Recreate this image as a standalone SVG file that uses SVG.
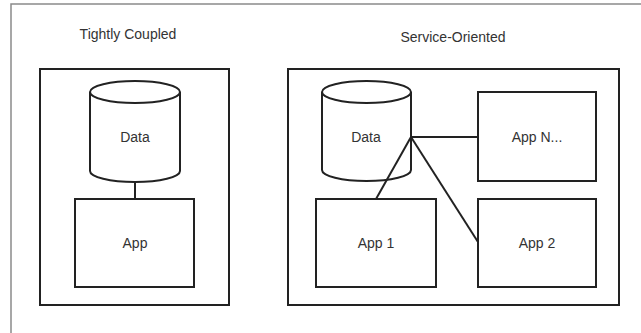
<svg xmlns="http://www.w3.org/2000/svg" width="641" height="333" viewBox="0 0 641 333">
  <style>
    .frame { fill: none; stroke: #8a8a8a; stroke-width: 1.5; }
    .box { fill: #ffffff; stroke: #222222; stroke-width: 2; }
    .cyl { fill: #ffffff; stroke: #222222; stroke-width: 2; }
    .link { fill: none; stroke: #222222; stroke-width: 2; }
    .lbl { font-family: "Liberation Sans", Arial, sans-serif; font-size: 14px; fill: #333333; text-anchor: middle; dominant-baseline: central; }
  </style>
  <rect width="641" height="333" fill="#ffffff"/>
  <path class="frame" d="M11,333 V4 H641"/>

  <!-- left panel -->
  <g id="tightly-coupled">
    <text class="lbl" x="128" y="34">Tightly Coupled</text>
    <rect class="box" x="40" y="69" width="189" height="236"/>
  </g>
  <g id="data-left">
    <path class="cyl" d="M90,92 A45,11 0 0 1 180,92 V171 A45,11 0 0 1 90,171 Z"/>
    <path class="cyl" d="M90,92 A45,11 0 0 0 180,92"/>
    <text class="lbl" x="135" y="137">Data</text>
  </g>
  <g id="app">
    <rect class="box" x="75" y="199" width="119" height="88"/>
    <text class="lbl" x="135" y="243">App</text>
  </g>

  <!-- right panel -->
  <g id="service-oriented">
    <text class="lbl" x="453" y="37">Service-Oriented</text>
    <rect class="box" x="288" y="69" width="331" height="236"/>
  </g>
  <g id="data-right">
    <path class="cyl" d="M322,92 A44.5,11 0 0 1 411,92 V170 A44.5,11 0 0 1 322,170 Z"/>
    <path class="cyl" d="M322,92 A44.5,11 0 0 0 411,92"/>
    <text class="lbl" x="366" y="137">Data</text>
  </g>
  <g id="app-n">
    <rect class="box" x="478" y="92" width="118" height="89"/>
    <text class="lbl" x="537" y="137">App N...</text>
  </g>
  <g id="app-1">
    <rect class="box" x="316" y="199" width="120" height="88"/>
    <text class="lbl" x="376" y="243">App 1</text>
  </g>
  <g id="app-2">
    <rect class="box" x="478" y="199" width="118" height="88"/>
    <text class="lbl" x="537" y="243">App 2</text>
  </g>

  <g id="connectors">
    <line class="link" x1="135" y1="182" x2="135" y2="199"/>
    <line class="link" x1="411" y1="137" x2="478" y2="137"/>
    <line class="link" x1="411" y1="137" x2="376" y2="199"/>
    <line class="link" x1="411" y1="137" x2="478" y2="242"/>
  </g>
</svg>
